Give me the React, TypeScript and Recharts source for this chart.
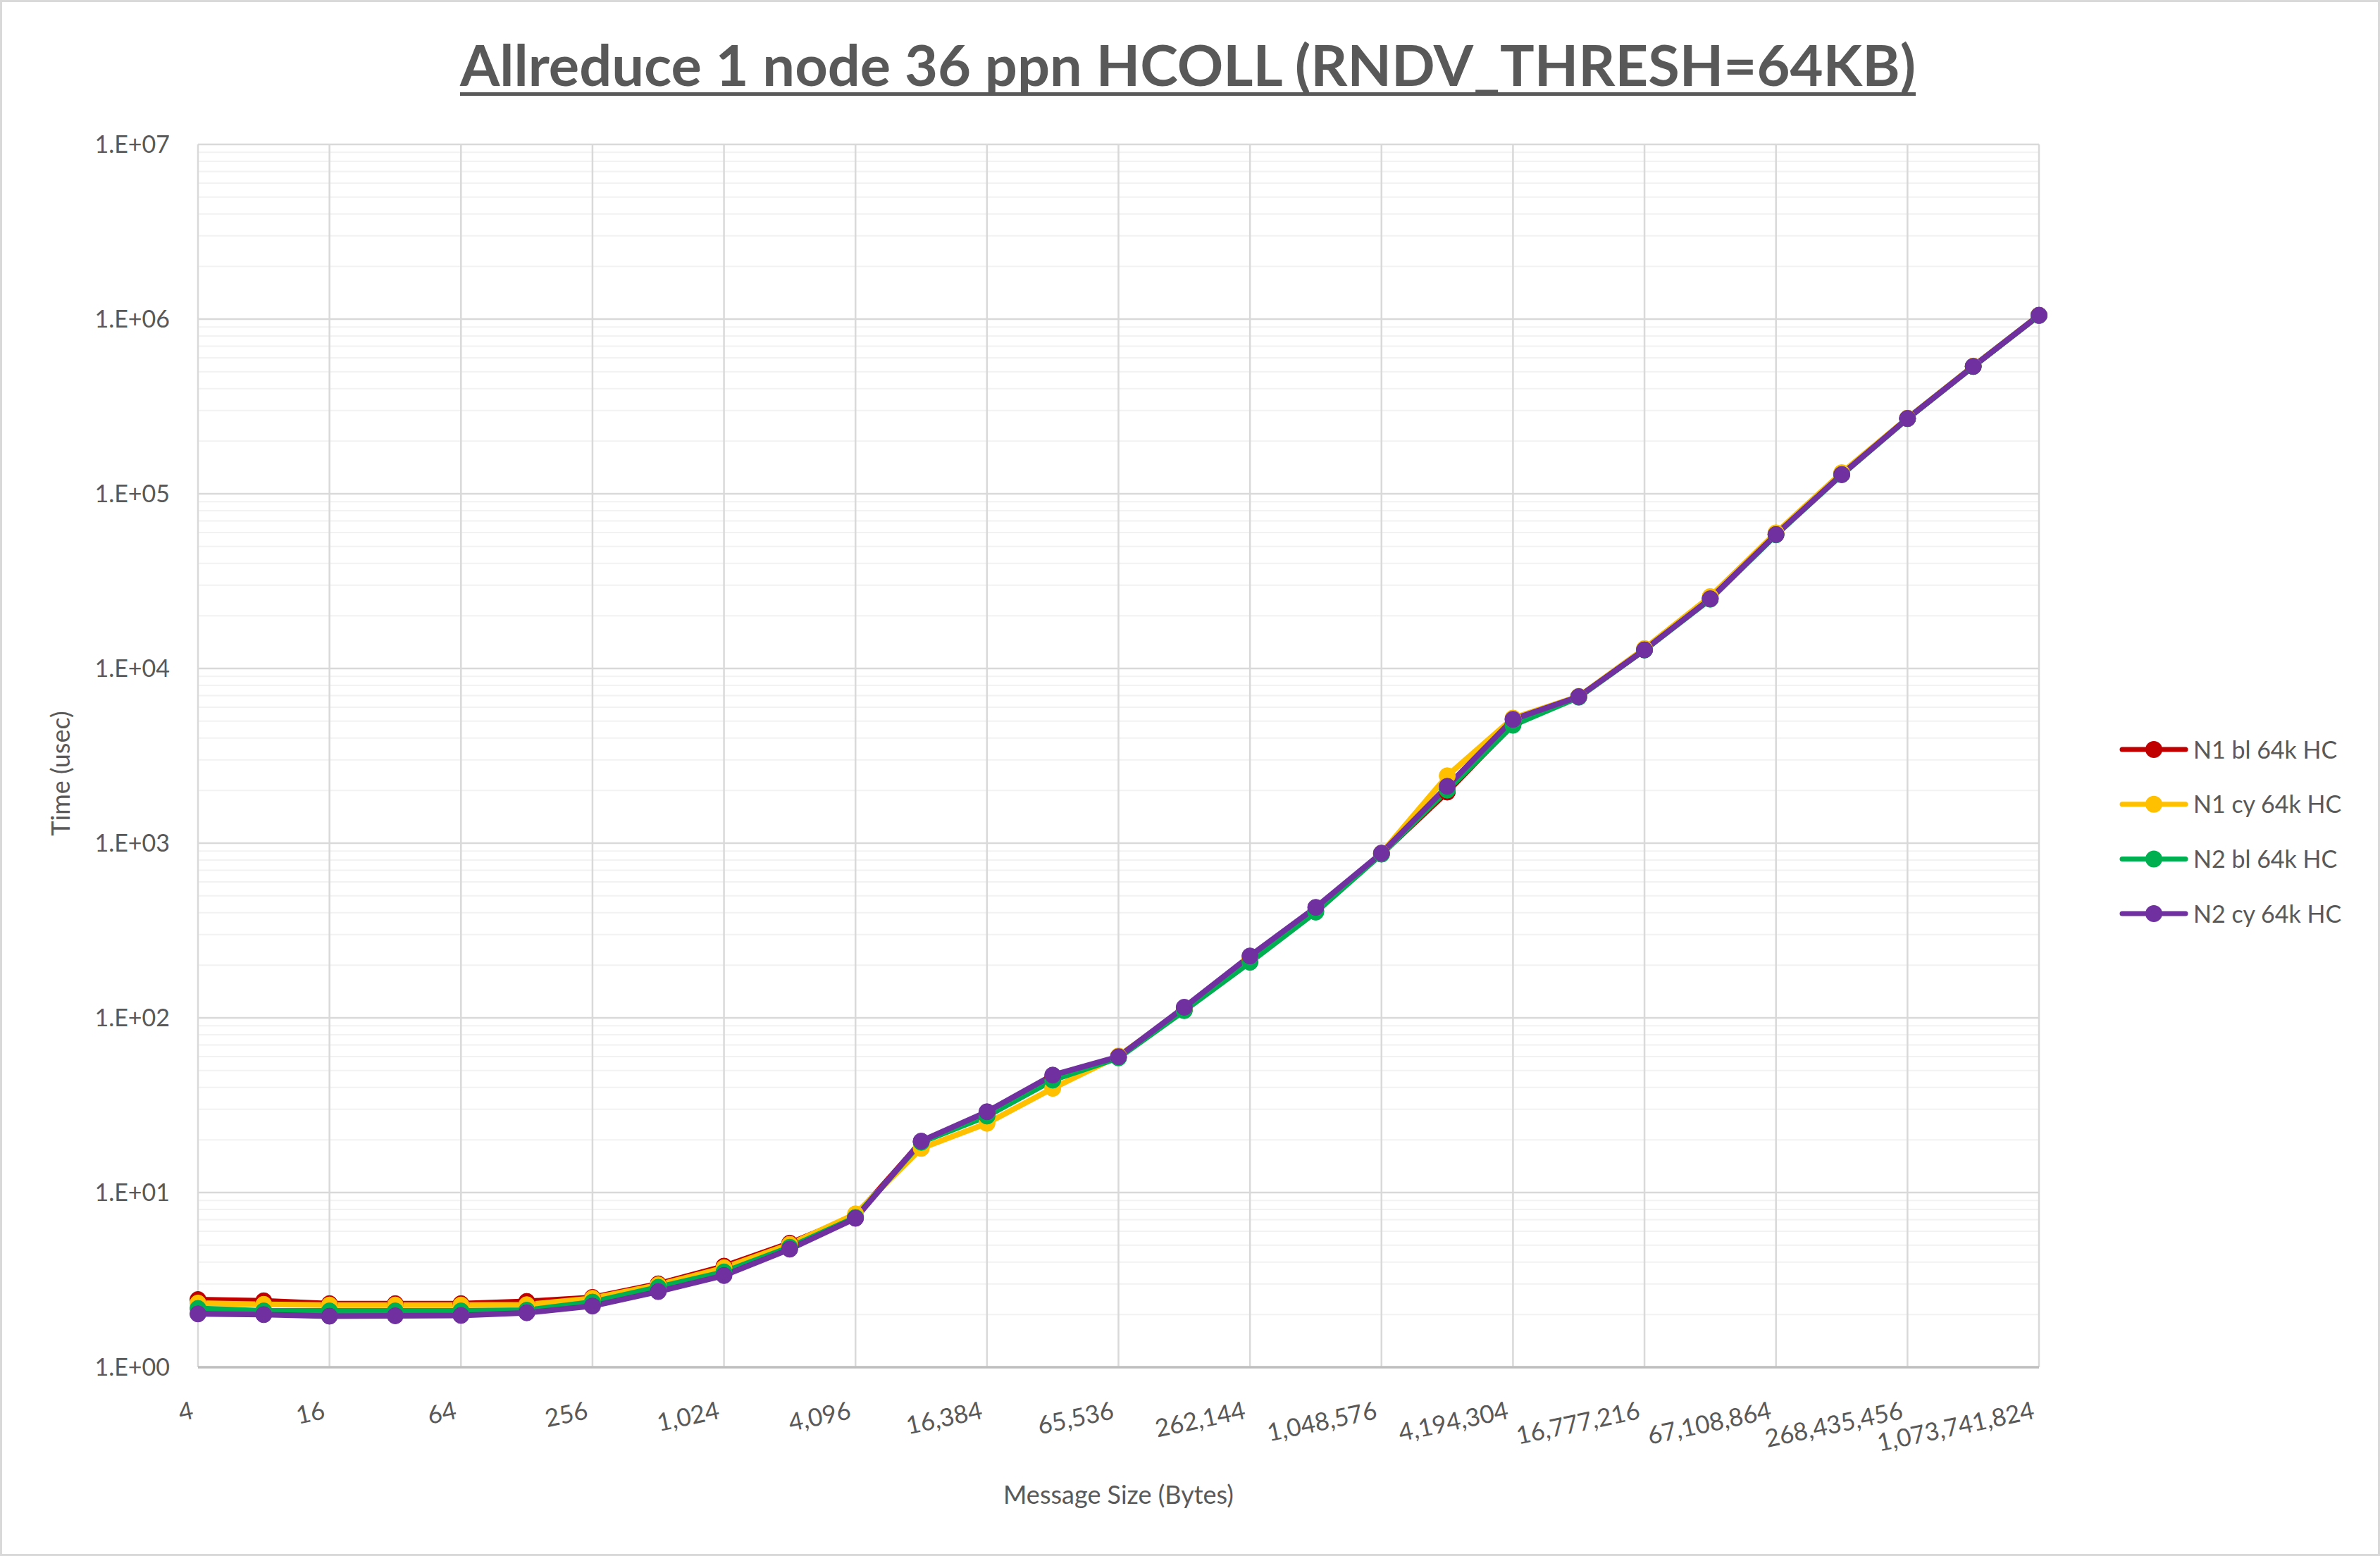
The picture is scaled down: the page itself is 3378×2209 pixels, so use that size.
import { LineChart, Line, XAxis, YAxis, CartesianGrid, Legend } from 'recharts'

// Allreduce 1 node 36 ppn, HCOLL, log-log latency vs message size

const sizes = [
  4, 8, 16, 32, 64, 128, 256, 512, 1024, 2048, 4096, 8192, 16384, 32768, 65536,
  131072, 262144, 524288, 1048576, 2097152, 4194304, 8388608, 16777216, 33554432,
  67108864, 134217728, 268435456, 536870912, 1073741824,
]

const n1Bl = [
  2.44, 2.4, 2.31, 2.31, 2.31, 2.38, 2.51, 3.0, 3.79, 5.13, 7.35, 19.5, 28.0, 45.5, 59.5,
  111, 212, 410, 868, 1960, 4800, 6880, 12800, 25300, 58800, 130000, 270000, 537000, 1050000,
]
const n1Cy = [
  2.33, 2.29, 2.27, 2.27, 2.27, 2.28, 2.48, 2.96, 3.71, 5.05, 7.55, 17.9, 24.9, 39.5, 60.5,
  112, 218, 412, 878, 2430, 5200, 6920, 13000, 25800, 59800, 132000, 271000, 538000, 1052000,
]
const n2Bl = [
  2.17, 2.1, 2.1, 2.1, 2.1, 2.12, 2.36, 2.87, 3.51, 4.86, 7.2, 19.4, 27.4, 44.0, 59.0,
  110, 208, 403, 865, 2013, 4731, 6850, 12750, 24900, 58200, 128500, 269000, 535000, 1048000,
]
const n2Cy = [
  2.02, 2.0, 1.96, 1.97, 1.98, 2.05, 2.24, 2.71, 3.35, 4.74, 7.12, 19.7, 29.0, 47.0, 59.9,
  115, 226, 429, 877, 2115, 5110, 6900, 12780, 25060, 58480, 128900, 270000, 536000, 1052000,
]

const xTickSizes = [
  4, 16, 64, 256, 1024, 4096, 16384, 65536, 262144, 1048576, 4194304, 16777216,
  67108864, 268435456, 1073741824,
]
const yTicks = [1, 10, 100, 1000, 10000, 100000, 1000000, 10000000]

const series = [
  { key: 'n1Bl', name: 'N1 bl 64k HC', color: '#C00000', values: n1Bl },
  { key: 'n1Cy', name: 'N1 cy 64k HC', color: '#FFC000', values: n1Cy },
  { key: 'n2Bl', name: 'N2 bl 64k HC', color: '#00B050', values: n2Bl },
  { key: 'n2Cy', name: 'N2 cy 64k HC', color: '#7030A0', values: n2Cy },
]

const data = sizes.map((size, i) => {
  const row: Record<string, number> = { exp: Math.log2(size), size }
  series.forEach((s) => {
    row[s.key] = s.values[i]
  })
  return row
})

// minor gridlines 2..9 within each decade
const minorValues = yTicks
  .slice(0, -1)
  .flatMap((d) => [2, 3, 4, 5, 6, 7, 8, 9].map((m) => m * d))

const FONT = 'Lato, "Open Sans", sans-serif'
const TEXT = '#595959'

function formatExp(v: number): string {
  const e = Math.round(Math.log10(v))
  return `1.E+${String(e).padStart(2, '0')}`
}

function SizeTick(props: any) {
  const { x, y, payload } = props
  const label = Math.pow(2, Math.round(payload.value)).toLocaleString('en-US')
  const ax = x - 10
  const ay = y + 48
  return (
    <text
      x={ax}
      y={ay}
      dy="0.72em"
      textAnchor="end"
      transform={`rotate(-12, ${ax}, ${ay})`}
      fill={TEXT}
      fontSize={35}
      fontFamily={FONT}
    >
      {label}
    </text>
  )
}

function LegendBox() {
  return (
    <svg width={378} height={320}>
      {series.map((s, i) => {
        const cy = 44 + i * 77.7
        return (
          <g key={s.key}>
            <line x1={12} x2={102} y1={cy} y2={cy} stroke={s.color} strokeWidth={7} strokeLinecap="round" />
            <circle cx={57} cy={cy} r={12} fill={s.color} />
            <text x={113} y={cy + 12.5} fill={TEXT} fontSize={34} fontFamily={FONT}>
              {s.name}
            </text>
          </g>
        )
      })}
    </svg>
  )
}

export default function App() {
  return (
    <div style={{ position: 'absolute', left: 0, top: 0, width: 3378, height: 2209, background: '#fff' }}>
      <LineChart
        width={3378}
        height={2209}
        data={data}
        margin={{ top: 205, right: 484, bottom: 0, left: 0 }}
      >
        <CartesianGrid
          horizontalValues={minorValues}
          vertical={false}
          stroke="#f2f2f2"
          strokeWidth={2}
        />
        <CartesianGrid stroke="#d9d9d9" strokeWidth={2.5} />
        <XAxis
          dataKey="exp"
          type="number"
          domain={[2, 30]}
          ticks={xTickSizes.map((s) => Math.log2(s))}
          interval={0}
          height={268}
          tickSize={0}
          tickMargin={0}
          tickLine={false}
          axisLine={{ stroke: '#bfbfbf', strokeWidth: 3.5 }}
          tick={<SizeTick />}
          label={{
            content: (p: any) => {
              const vb = p.viewBox
              return (
                <text
                  x={vb.x + vb.width / 2}
                  y={2135}
                  textAnchor="middle"
                  fill={TEXT}
                  fontSize={36}
                  fontFamily={FONT}
                >
                  Message Size (Bytes)
                </text>
              )
            },
          }}
        />
        <YAxis
          type="number"
          scale="log"
          domain={[1, 10000000]}
          ticks={yTicks}
          interval={0}
          allowDataOverflow
          width={281}
          tickSize={0}
          tickMargin={40}
          tickLine={false}
          axisLine={false}
          tickFormatter={formatExp}
          tick={{ fill: TEXT, fontSize: 34, fontFamily: FONT }}
          label={{
            content: (p: any) => {
              const vb = p.viewBox
              const cx = 86
              const cy = vb.y + vb.height / 2 + 25
              return (
                <text
                  x={cx}
                  y={cy}
                  dy="0.36em"
                  textAnchor="middle"
                  transform={`rotate(-90, ${cx}, ${cy})`}
                  fill={TEXT}
                  fontSize={36}
                  fontFamily={FONT}
                >
                  Time (usec)
                </text>
              )
            },
          }}
        />
        <Legend
          layout="vertical"
          align="center"
          verticalAlign="middle"
          wrapperStyle={{ left: 3000, top: 1020, width: 378, height: 320 }}
          content={() => <LegendBox />}
        />
        {series.map((s) => (
          <Line
            key={s.key}
            dataKey={s.key}
            name={s.name}
            type="linear"
            stroke={s.color}
            strokeWidth={8}
            strokeLinejoin="round"
            dot={{ r: 11.5, fill: s.color, stroke: s.color, strokeWidth: 1 }}
            activeDot={false}
            isAnimationActive={false}
          />
        ))}
      </LineChart>

      <svg
        width={3378}
        height={2209}
        style={{ position: 'absolute', left: 0, top: 0, pointerEvents: 'none' }}
      >
        <text
          x={1686}
          y={121.7}
          textAnchor="middle"
          textLength={2066}
          lengthAdjust="spacingAndGlyphs"
          fill={TEXT}
          fontSize={81}
          fontWeight={700}
          fontFamily={FONT}
        >
          Allreduce 1 node 36 ppn HCOLL (RNDV_THRESH=64KB)
        </text>
        <rect x={653} y={131} width={2066} height={5} fill={TEXT} />
        <rect x={1.5} y={1.5} width={3375} height={2206} fill="none" stroke="#d9d9d9" strokeWidth={3} />
      </svg>
    </div>
  )
}
